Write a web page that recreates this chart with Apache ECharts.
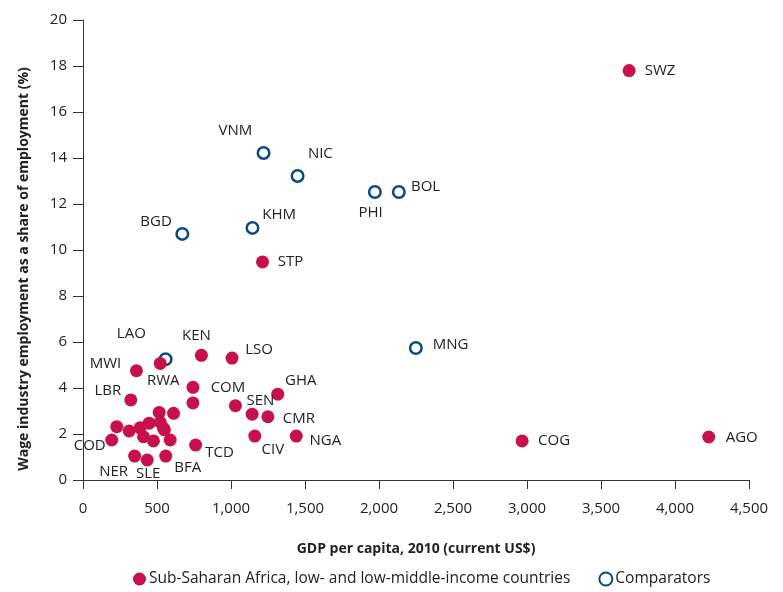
<!DOCTYPE html>
<html>
<head>
<meta charset="utf-8">
<script src="https://cdn.jsdelivr.net/npm/echarts@6/dist/echarts.min.js"></script>
<style>
  html, body { margin: 0; padding: 0; background: #fff; }
  #chart { width: 783px; height: 592px; }
</style>
</head>
<body>
<div id="chart"></div>
<script>
// Sub-Saharan Africa, low- and low-middle-income countries ('' = unlabelled)
var ssaCodes = ['SWZ', 'STP', 'AGO', 'COG', 'KEN', 'LSO', 'MWI', 'RWA', 'COM', '', 'LBR', 'GHA', 'SEN', '',
  'CMR', 'NGA', 'CIV', 'TCD', 'BFA', 'SLE', 'NER', 'COD',
  '', '', '', '', '', '', '', '', '', '', '', ''];
var ssaGdp = [3690, 1213, 4228, 2967, 800, 1007, 361, 522, 743, 743, 323, 1316, 1030, 1143,
  1249, 1441, 1161, 761, 559, 434, 349, 194,
  515, 612, 228, 312, 386, 447, 522, 544, 409, 476, 589, 550];
var ssaWage = [17.8, 9.48, 1.87, 1.70, 5.42, 5.30, 4.75, 5.07, 4.03, 3.35, 3.48, 3.73, 3.23, 2.86,
  2.75, 1.91, 1.91, 1.52, 1.04, 0.87, 1.04, 1.74,
  2.94, 2.90, 2.32, 2.13, 2.27, 2.47, 2.51, 2.25, 1.88, 1.70, 1.74, 2.18];

// Comparators
var compCodes = ['VNM', 'NIC', 'BOL', 'PHI', 'KHM', 'BGD', 'MNG', 'LAO'];
var compGdp = [1220, 1450, 2134, 1972, 1145, 671, 2249, 558];
var compWage = [14.22, 13.22, 12.52, 12.52, 10.96, 10.70, 5.74, 5.25];

var xTicks = [0, 500, 1000, 1500, 2000, 2500, 3000, 3500, 4000, 4500];
var yTicks = [0, 2, 4, 6, 8, 10, 12, 14, 16, 18, 20];

// label centre offsets from the marker centre (px)
var labelOffset = {
  SWZ: [31, 0], STP: [28, 0], AGO: [33, 1], COG: [32, 0], KEN: [-5, -20], LSO: [27, -8],
  MWI: [-31, -7], RWA: [3, 17], COM: [35, 0], LBR: [-23, -9], GHA: [23, -13], SEN: [25, -5],
  CMR: [31, 2], NGA: [29, 5], CIV: [18, 14], TCD: [24, 8], BFA: [22, 12], SLE: [1, 14],
  NER: [-21, 16], COD: [-22, 6],
  VNM: [-27, -21], NIC: [24, -21], BOL: [28, -4], PHI: [-3, 22], KHM: [28, -12],
  BGD: [-25, -11], MNG: [36, -2], LAO: [-33, -24]
};

var RED = '#c8104a';
var BLUE = '#0b4a7d';
var FONT = 'Open Sans';

function buildData(codes, gdp, wage, size) {
  return codes.map(function (c, i) {
    var item = { name: c, value: [gdp[i], wage[i]] };
    if (c && labelOffset[c]) {
      var o = labelOffset[c];
      item.label = { show: true, position: [size / 2 + o[0], size / 2 + o[1]] };
    }
    return item;
  });
}

var chart = echarts.init(document.getElementById('chart'));

var labelStyle = {
  show: false,
  formatter: '{b}',
  align: 'center',
  verticalAlign: 'middle',
  color: '#222',
  fontFamily: FONT,
  fontSize: 15
};

var option = {
  animation: false,
  textStyle: { fontFamily: FONT },
  grid: { left: 83, right: 34, top: 20, bottom: 112, containLabel: false },
  legend: {
    bottom: 0,
    left: 128,
    itemGap: 28,
    itemWidth: 13,
    itemHeight: 13,
    data: ['Sub-Saharan Africa, low- and low-middle-income countries', 'Comparators'],
    textStyle: { fontFamily: FONT, fontSize: 15.5, color: '#222', padding: [0, 0, 0, -2] }
  },
  xAxis: {
    type: 'value',
    min: xTicks[0],
    max: xTicks[xTicks.length - 1],
    interval: 500,
    name: 'GDP per capita, 2010 (current US$)',
    nameLocation: 'middle',
    nameGap: 62,
    nameTextStyle: { fontFamily: FONT, fontSize: 14, fontWeight: 'bold', color: '#222' },
    splitLine: { show: false },
    axisLine: { show: true, lineStyle: { color: '#333', width: 1 } },
    axisTick: { show: true, length: 9, lineStyle: { color: '#333' } },
    axisLabel: {
      margin: 21, fontSize: 15, color: '#222', fontFamily: FONT,
      formatter: function (v) { return v.toLocaleString('en-US'); }
    }
  },
  yAxis: {
    type: 'value',
    min: yTicks[0],
    max: yTicks[yTicks.length - 1],
    interval: 2,
    name: 'Wage industry employment as a share of employment (%)',
    nameLocation: 'middle',
    nameGap: 52,
    nameTextStyle: {
      fontFamily: FONT, fontSize: 14, fontWeight: 'bold', color: '#222',
      padding: [0, 38, 0, 0]
    },
    splitLine: { show: false },
    axisLine: { show: true, lineStyle: { color: '#333', width: 1 } },
    axisTick: { show: true, length: 10, lineStyle: { color: '#333' } },
    axisLabel: { margin: 16, fontSize: 15, color: '#222', fontFamily: FONT }
  },
  series: [
    {
      name: 'Comparators',
      type: 'scatter',
      symbol: 'circle',
      symbolSize: 11.5,
      itemStyle: { color: '#fff', borderColor: BLUE, borderWidth: 2.5, opacity: 1 },
      label: labelStyle,
      emphasis: { disabled: true },
      data: buildData(compCodes, compGdp, compWage, 11.5)
    },
    {
      name: 'Sub-Saharan Africa, low- and low-middle-income countries',
      type: 'scatter',
      symbol: 'circle',
      symbolSize: 13,
      itemStyle: { color: RED, opacity: 1 },
      label: labelStyle,
      emphasis: { disabled: true },
      data: buildData(ssaCodes, ssaGdp, ssaWage, 13)
    }
  ]
};

chart.setOption(option);
</script>
</body>
</html>
